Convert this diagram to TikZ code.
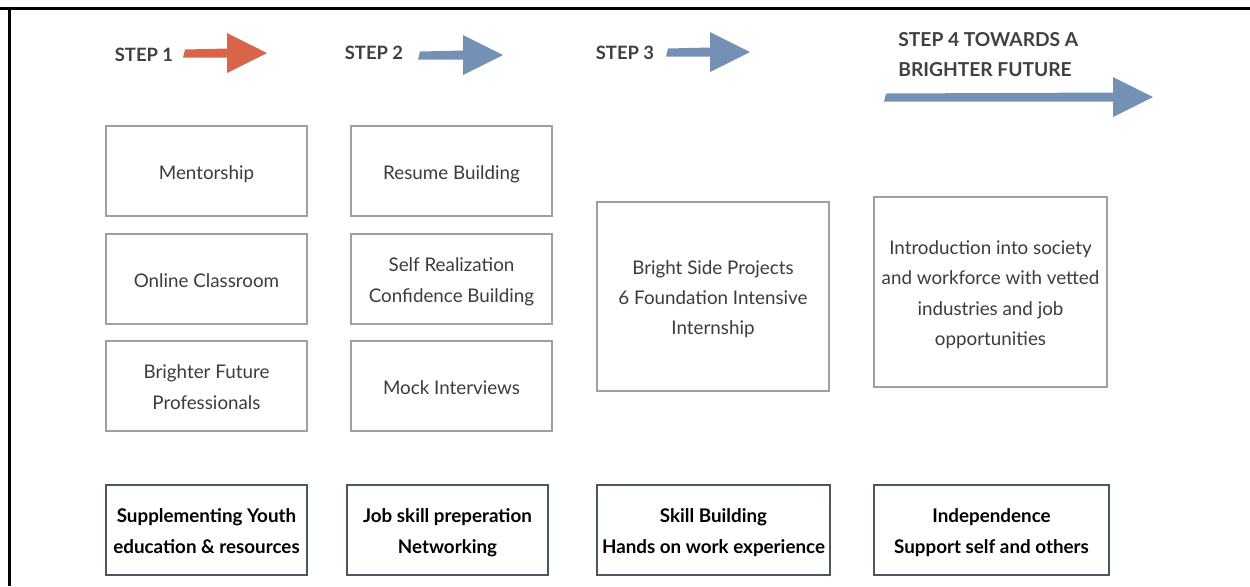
\documentclass[tikz,border=0pt]{standalone}
\usepackage{fontspec}
\setmainfont{Lato}
\definecolor{redarrow}{HTML}{D8654A}
\definecolor{bluearrow}{HTML}{7590B5}
\definecolor{headtxt}{HTML}{404040}
\definecolor{boxtxt}{HTML}{3C3C3C}
\definecolor{lightframe}{HTML}{A0A0A0}
\definecolor{darkframe}{HTML}{4A575D}
\newcommand{\stepArrow}[5]{%
  \fill[#5] (#1,{#4-3.5}) -- (#2,{#4-4.5}) -- (#2,{#4-20}) -- (#3,#4) -- (#2,{#4+20}) -- (#2,{#4+4.5}) -- ({#1-2},{#4+4.5}) -- cycle;}
\newcommand{\bx}[1]{\raisebox{-1pt}[\height][\depth]{\begin{tabular}{@{}c@{}}#1\end{tabular}}}
\begin{document}
\begin{tikzpicture}[x=0.5pt,y=-0.5pt,
  topbox/.style={draw=lightframe,line width=0.6pt,minimum width=100.5pt,minimum height=45pt,
    inner sep=0pt,text=boxtxt,font=\fontsize{9.4}{15.2}\selectfont},
  bigbox/.style={topbox,minimum height=94.5pt},
  basebox/.style={draw=darkframe,line width=1.2pt,minimum width=100.5pt,minimum height=45pt,
    inner sep=0pt,text=black,font=\fontsize{9.4}{15.5}\selectfont\bfseries},
  stephead/.style={text=headtxt,font=\fontsize{9.2}{15}\selectfont\bfseries,inner sep=0pt,align=left}]
\useasboundingbox (0,0) rectangle (1250,586);
\fill[white] (0,0) rectangle (1250,586);
% frame
\draw[line width=1.5pt,black] (0,8.5) -- (1250,8.5);
\draw[line width=1.5pt,black] (9.5,7.75) -- (9.5,586);
% step headers
\node[stephead] (s1) at (144,55) {STEP 1};
\node[stephead] (s2) at (374,53) {STEP 2};
\node[stephead] (s3) at (625,53) {STEP 3};
\node[stephead,anchor=west,font=\fontsize{9.6}{15}\selectfont\bfseries] (s4) at (898,55) {STEP 4 TOWARDS A\\BRIGHTER FUTURE};
% arrows
\stepArrow{185}{227}{267}{53}{redarrow}
\stepArrow{420}{463}{503}{55}{bluearrow}
\stepArrow{668}{710}{750}{52}{bluearrow}
\stepArrow{886}{1113}{1153}{97}{bluearrow}
% column 1
\node[topbox] (m) at (206.5,171) {\bx{Mentorship}};
\node[topbox] (oc) at (206.5,279) {\bx{Online Classroom}};
\node[topbox] (bf) at (206.5,386) {\bx{Brighter Future\\Professionals}};
% column 2
\node[topbox] (rb) at (451.5,171) {\bx{Resume Building}};
\node[topbox] (sr) at (451.5,279) {\bx{Self Realization\\Confidence Building}};
\node[topbox] (mi) at (451.5,386) {\bx{Mock Interviews}};
% column 3
\node[bigbox,minimum width=116pt,font=\fontsize{9.4}{15}\selectfont] (bs) at (713,296.5) {\bx{Bright Side Projects\\6 Foundation Intensive\\Internship}};
% column 4
\node[bigbox,minimum width=116.5pt,minimum height=95pt] (intro) at (990.5,292) {\bx{Introduction into society\\and workforce with vetted\\industries and job\\opportunities}};
% bottom row
\node[basebox] (b1) at (206.5,530) {\bx{Supplementing Youth\\education \& resources}};
\node[basebox] (b2) at (447.5,530) {\bx{Job skill preperation\\Networking}};
\node[basebox,minimum width=116.5pt] (b3) at (713.5,530) {\bx{Skill Building\\Hands on work experience}};
\node[basebox,minimum width=117.5pt] (b4) at (991.5,530) {\bx{Independence\\Support self and others}};
\end{tikzpicture}
\end{document}
